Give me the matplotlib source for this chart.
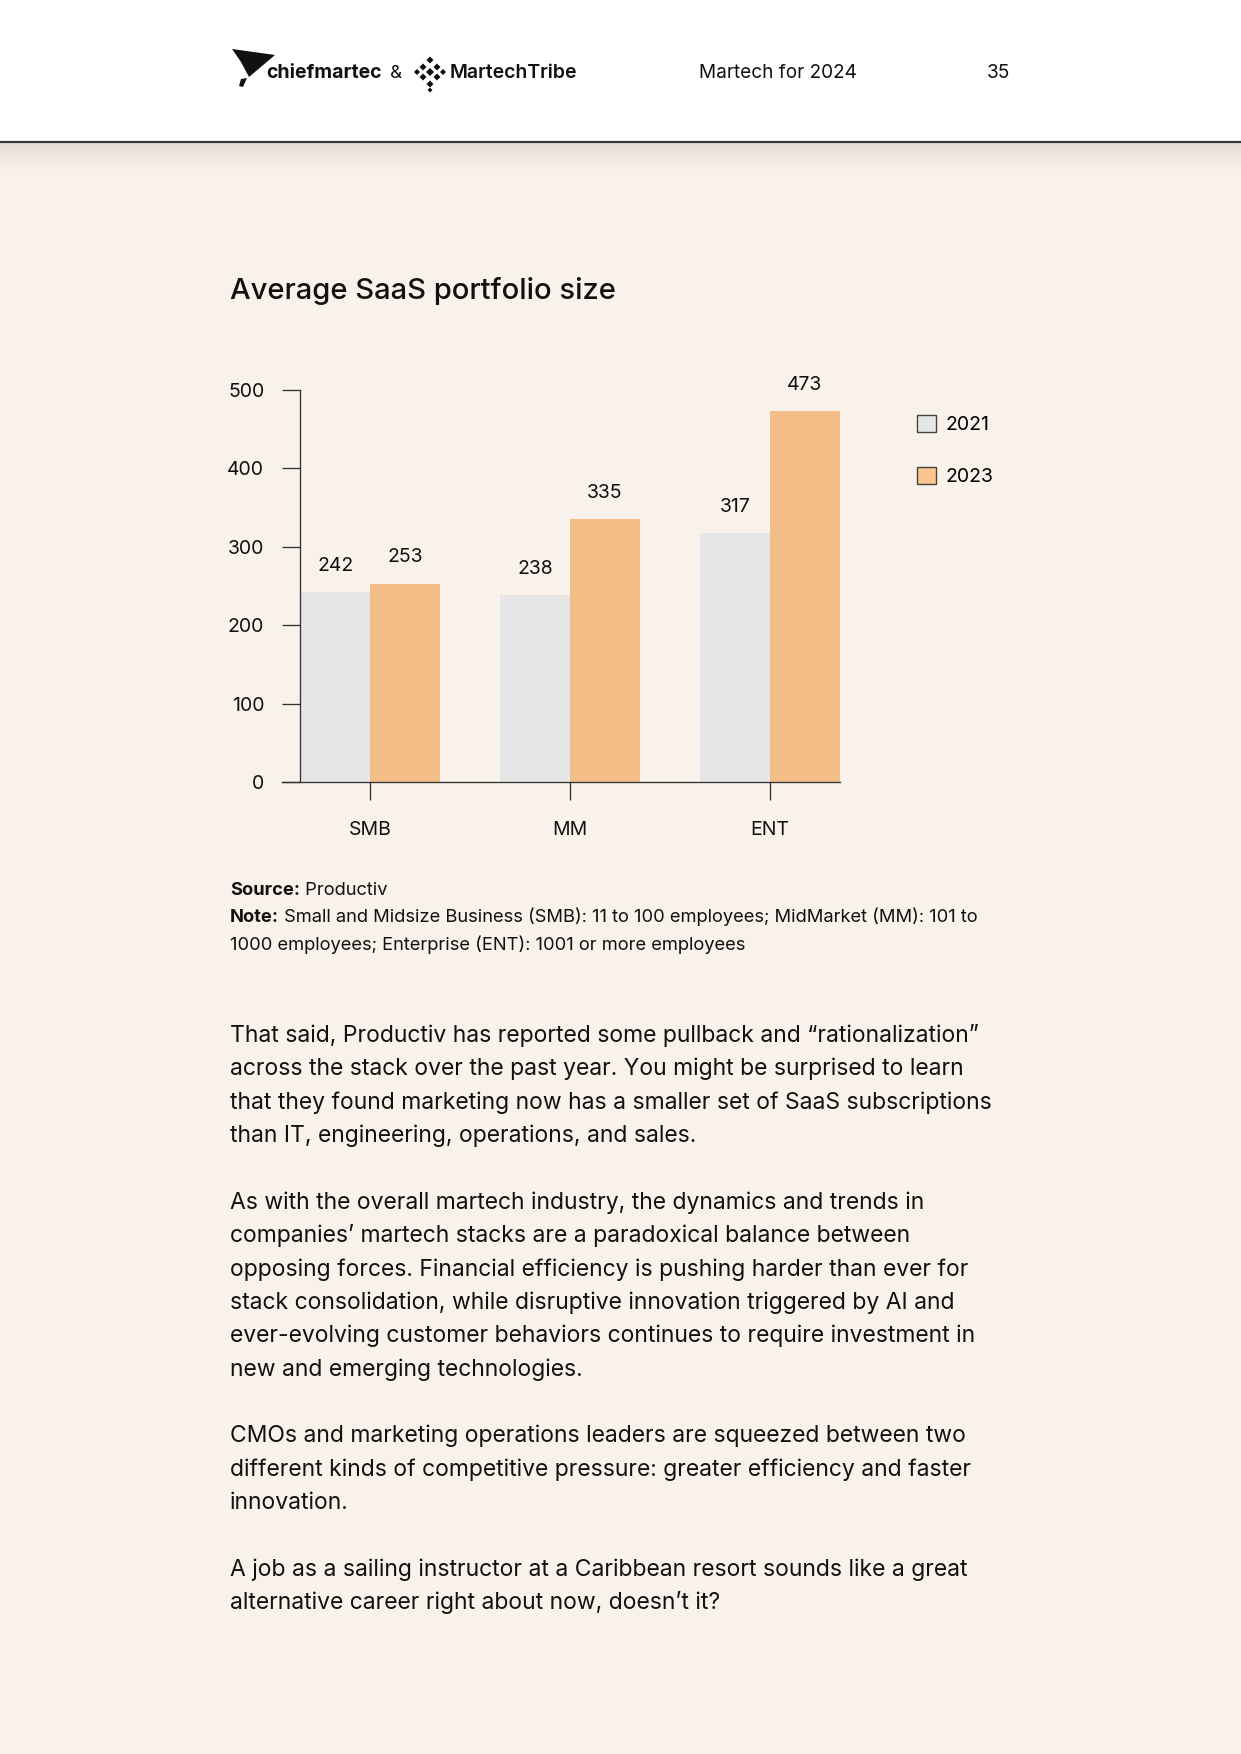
import numpy as np
import matplotlib.pyplot as plt
from matplotlib.patches import Rectangle, Polygon, Patch
from matplotlib.lines import Line2D

W, H = 1241, 1754

# chart data
categories = ['SMB', 'MM', 'ENT']
years = ['2021', '2023']
values_2021 = [242, 238, 317]
values_2023 = [253, 335, 473]
yticks = [0, 100, 200, 300, 400, 500]

title = 'Average SaaS portfolio size'
header_title = 'Martech for 2024'
page_no = '35'
source_text = 'Productiv'
note_lines = ['Small and Midsize Business (SMB): 11 to 100 employees; MidMarket (MM): 101 to',
              '1000 employees; Enterprise (ENT): 1001 or more employees']
paragraphs = [
    ['That said, Productiv has reported some pullback and \u201crationalization\u201d',
     'across the stack over the past year. You might be surprised to learn',
     'that they found marketing now has a smaller set of SaaS subscriptions',
     'than IT, engineering, operations, and sales.'],
    ['As with the overall martech industry, the dynamics and trends in',
     'companies\u2019 martech stacks are a paradoxical balance between',
     'opposing forces. Financial efficiency is pushing harder than ever for',
     'stack consolidation, while disruptive innovation triggered by AI and',
     'ever-evolving customer behaviors continues to require investment in',
     'new and emerging technologies.'],
    ['CMOs and marketing operations leaders are squeezed between two',
     'different kinds of competitive pressure: greater efficiency and faster',
     'innovation.'],
    ['A job as a sailing instructor at a Caribbean resort sounds like a great',
     'alternative career right about now, doesn\u2019t it?'],
]

BG = '#F8F2EB'
GRAY = '#E6E6E6'
ORANGE = '#F2BD86'
LEG_ORANGE = '#FCC58B'
INK = '#111111'
AXC = '#333333'

plt.rcParams['font.family'] = ['Inter', 'DejaVu Sans']


def fx(x):
    return x / W


def fy(y):
    return 1 - y / H


fig = plt.figure(figsize=(W / 100, H / 100), dpi=100)
fig.patch.set_facecolor(BG)

# header band + shadow
fig.patches.append(Rectangle((0, fy(141)), 1, 141 / H, transform=fig.transFigure,
                             facecolor='white', edgecolor='none', zorder=0))
sh = fig.add_axes([0, fy(141 + 30), 1, 30 / H])
sh.axis('off')
top_c = np.array([0xE0, 0xD9, 0xD1]) / 255
bot_c = np.array([0xF8, 0xF2, 0xEB]) / 255
t = np.linspace(0, 1, 60)[:, None] ** 0.8
grad = top_c[None, :] * (1 - t) + bot_c[None, :] * t
sh.imshow(grad[:, None, :], aspect='auto', extent=[0, 1, 0, 1])
fig.add_artist(Line2D([0, 1], [fy(141.5), fy(141.5)], lw=1.6, color='#3a3a3a'))

# logos
fig.patches.append(Polygon([(fx(232), fy(49)), (fx(275), fy(55)), (fx(249), fy(77)), (fx(241), fy(62))],
                           closed=True, transform=fig.transFigure, facecolor=INK, edgecolor='none'))
fig.patches.append(Polygon([(fx(241), fy(79)), (fx(247), fy(78)), (fx(243), fy(87)), (fx(239), fy(86))],
                           closed=True, transform=fig.transFigure, facecolor=INK, edgecolor='none'))
fig.text(fx(266), fy(78.5), 'chiefmartec', fontsize=14, weight='bold', color=INK, va='baseline')
fig.text(fx(390), fy(78.5), '&', fontsize=13.5, color=INK, va='baseline')
cx, cy = 430, 72
for dx, dy, s in [(0, -12, 3.5), (-7, -5, 3.5), (7, -5, 3.5), (-13, 0, 3), (13, 0, 3),
                  (0, 0, 4), (-7, 5, 3.5), (7, 5, 3.5), (0, 12, 3.5), (0, 18, 2.5)]:
    px, py = cx + dx, cy + dy
    fig.patches.append(Polygon([(fx(px), fy(py - s)), (fx(px + s), fy(py)), (fx(px), fy(py + s)), (fx(px - s), fy(py))],
                               closed=True, transform=fig.transFigure, facecolor=INK, edgecolor='none'))
fig.text(fx(450), fy(78.5), 'MartechTribe', fontsize=14, weight='semibold', color=INK, va='baseline')

fig.text(fx(699), fy(78.5), header_title, fontsize=13.7, color=INK, va='baseline')
fig.text(fx(987), fy(78.5), page_no, fontsize=13.7, color=INK, va='baseline')

# title
fig.text(fx(230), fy(299), title, fontsize=21, weight='medium', color=INK, va='baseline')

# bar chart
ax = fig.add_axes([fx(282.4), fy(782), (839.6 - 282.4) / W, (782 - 390) / H])
ax.set_facecolor('none')
x = np.arange(len(categories))
w = 0.35
b1 = ax.bar(x - w / 2, values_2021, w, color=GRAY, zorder=2)
b2 = ax.bar(x + w / 2, values_2023, w, color=ORANGE, zorder=2)
for bars, vals in [(b1, values_2021), (b2, values_2023)]:
    for rect, v in zip(bars, vals):
        ax.annotate(str(v), (rect.get_x() + rect.get_width() / 2, v), xytext=(0, 15.6),
                    textcoords='offset points', ha='center', va='baseline', fontsize=14,
                    color=INK, annotation_clip=False)
ax.set_xlim(-w - 18 / 199.7, len(categories) - 1 + w)
ax.set_ylim(0, 500)
ax.set_yticks(yticks)
ax.set_xticks(x)
ax.set_xticklabels(categories)
ax.spines['top'].set_visible(False)
ax.spines['right'].set_visible(False)
ax.spines['left'].set_position(('data', -w))
for s in ['left', 'bottom']:
    ax.spines[s].set_color(AXC)
    ax.spines[s].set_linewidth(0.95)
    ax.spines[s].set_zorder(3)
ax.tick_params(axis='y', length=13, width=0.95, color=AXC, pad=13, labelsize=14, labelcolor=INK)
ax.tick_params(axis='x', length=13, width=0.95, color=AXC, pad=15, labelsize=14, labelcolor=INK)

ax.legend(handles=[Patch(facecolor=GRAY, edgecolor='#444444', lw=1),
                   Patch(facecolor=LEG_ORANGE, edgecolor='#444444', lw=1)],
          labels=years, loc='upper left', bbox_to_anchor=(fx(917), fy(414.5)),
          bbox_transform=fig.transFigure, frameon=False, fontsize=14,
          handlelength=1.0, handleheight=1.0, handletextpad=0.45, labelspacing=1.7,
          borderpad=0, borderaxespad=0)

# source / note
r = fig.canvas.get_renderer()
fs_note = 13.2
t1 = fig.text(fx(230), fy(895), 'Source:', fontsize=fs_note, weight='bold', color=INK, va='baseline')
bb = t1.get_window_extent(r)
fig.text(bb.x1 / W, fy(895), ' ' + source_text, fontsize=fs_note, color=INK, va='baseline')
t2 = fig.text(fx(230), fy(922.5), 'Note:', fontsize=fs_note, weight='bold', color=INK, va='baseline')
bb = t2.get_window_extent(r)
fig.text(bb.x1 / W, fy(922.5), ' ' + note_lines[0], fontsize=fs_note, color=INK, va='baseline')
fig.text(fx(230), fy(950), note_lines[1], fontsize=fs_note, color=INK, va='baseline')

# body text
step = 33.37
line_i = 0
for para in paragraphs:
    for ln in para:
        fig.text(fx(230), fy(1042 + line_i * step), ln, fontsize=16.5, color=INK, va='baseline')
        line_i += 1
    line_i += 1

fig.savefig('out.png', dpi=100, facecolor=BG)
